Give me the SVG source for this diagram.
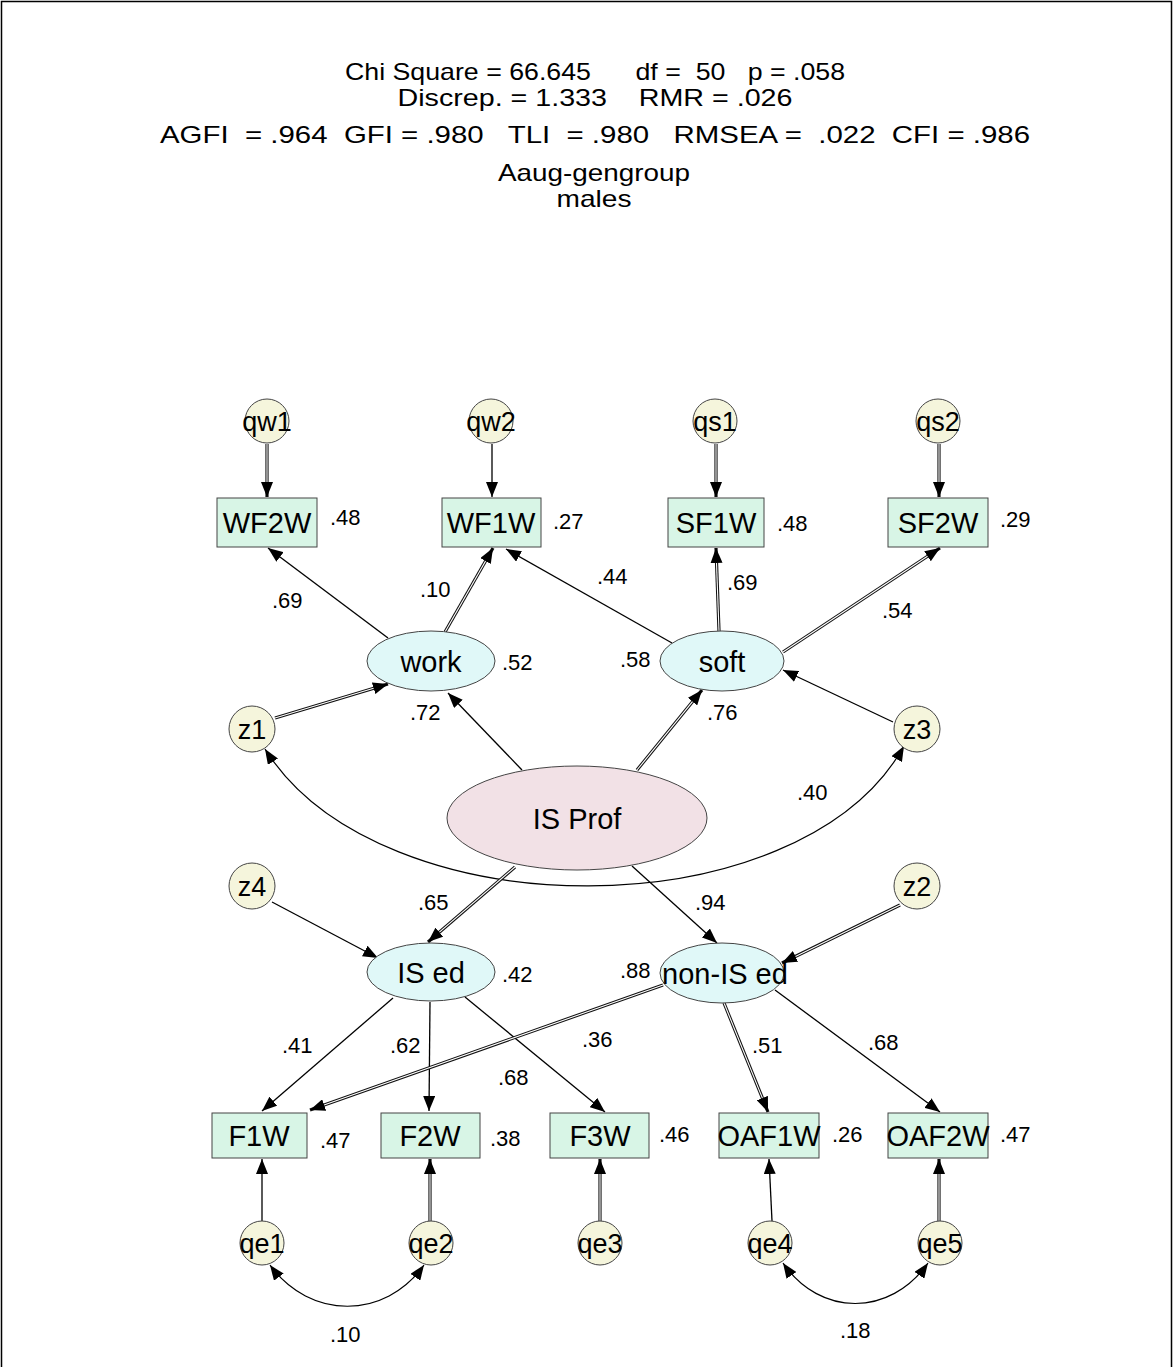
<svg xmlns="http://www.w3.org/2000/svg" width="1173" height="1367" viewBox="0 0 1173 1367">
<style>
text{font-family:"Liberation Sans",Arial,sans-serif;fill:#000}
.hdr{font-size:24px;text-anchor:middle;white-space:pre}
.lbl{font-size:29px;text-anchor:middle}
.elbl{font-size:27px;text-anchor:middle}
.val{font-size:22px}
.err{fill:#f5f5dc;stroke:#444;stroke-width:1}
.lat{fill:#e0f8f8;stroke:#444;stroke-width:1}
.prof{fill:#f2e1e6;stroke:#444;stroke-width:1}
.obs{fill:#d8f5e6;stroke:#444;stroke-width:1}
.sgl{fill:none;stroke:#000;stroke-width:1.3;marker-end:url(#ah)}
.dbl{fill:none;stroke:#111;stroke-width:3.2;marker-end:url(#ah)}
.dblin{fill:none;stroke:#fff;stroke-width:1.1}
.cov{fill:none;stroke:#000;stroke-width:1.2;marker-start:url(#ahs);marker-end:url(#ah)}
</style>
<defs>
<marker id="ah" markerUnits="userSpaceOnUse" markerWidth="16" markerHeight="12" refX="15" refY="6" orient="auto">
<path d="M0,0 L15,6 L0,12 z" fill="#000"/>
</marker>
<marker id="ahs" markerUnits="userSpaceOnUse" markerWidth="16" markerHeight="12" refX="15" refY="6" orient="auto-start-reverse">
<path d="M0,0 L15,6 L0,12 z" fill="#000"/>
</marker>
</defs>
<rect x="0" y="0" width="1173" height="1367" fill="#fff"/>
<path d="M1.5,1367 V1.5 H1171.5 V1367" fill="none" stroke="#000" stroke-width="1.5"/>

<g id="header">
<text class="hdr" x="595" y="80" textLength="500" lengthAdjust="spacingAndGlyphs">Chi Square = 66.645      df =  50   p = .058</text>
<text class="hdr" x="595" y="106" textLength="395" lengthAdjust="spacingAndGlyphs">Discrep. = 1.333    RMR = .026</text>
<text class="hdr" x="595" y="143" textLength="870" lengthAdjust="spacingAndGlyphs">AGFI  = .964  GFI = .980   TLI  = .980   RMSEA =  .022  CFI = .986</text>
<text class="hdr" x="594" y="181" textLength="192" lengthAdjust="spacingAndGlyphs">Aaug-gengroup</text>
<text class="hdr" x="594" y="207" textLength="75" lengthAdjust="spacingAndGlyphs">males</text>
</g>

<g id="connectors">
<path class="dbl" d="M267,444 L267,497"/><path class="dblin" d="M267,444 L267,482"/>
<path class="sgl" d="M492,444 L492,497"/>
<path class="dbl" d="M716,444 L716,497"/><path class="dblin" d="M716,444 L716,482"/>
<path class="dbl" d="M939,444 L939,497"/><path class="dblin" d="M939,444 L939,482"/>
<path class="sgl" d="M388,638 L268,548"/>
<path class="dbl" d="M445,632 L493,548"/><path class="dblin" d="M445,632 L485.6,561"/>
<path class="sgl" d="M672,643 L506,549"/>
<path class="dbl" d="M719,631 L716,548"/><path class="dblin" d="M719,631 L716.5,563"/>
<path class="dbl" d="M783,652 L940,548"/><path class="dblin" d="M783,652 L927.5,556.3"/>
<path class="sgl" d="M522,770 L448,693"/>
<path class="dbl" d="M637,770 L702,690"/><path class="dblin" d="M637,770 L692.5,701.6"/>
<path class="dbl" d="M275,718 L388,684"/><path class="dblin" d="M275,718 L373.6,688.3"/>
<path class="sgl" d="M893,722 L783,670"/>
<path class="cov" d="M265,749 C380,932 800,932 904,746"/>
<path class="dbl" d="M515,867 L428,942"/><path class="dblin" d="M515,867 L439.4,932.2"/>
<path class="sgl" d="M632,866 L717,943"/>
<path class="sgl" d="M272,902 L378,958"/>
<path class="dbl" d="M900,905 L782,963"/><path class="dblin" d="M900,905 L795.5,956.4"/>
<path class="sgl" d="M393,998 L262,1111"/>
<path class="sgl" d="M430,1002 L429,1111"/>
<path class="sgl" d="M465,997 L605,1112"/>
<path class="dbl" d="M663,985 L310,1110"/><path class="dblin" d="M663,985 L324.1,1105"/>
<path class="dbl" d="M724,1003 L768,1112"/><path class="dblin" d="M724,1003 L762.4,1098.1"/>
<path class="sgl" d="M775,990 L940,1112"/>
<path class="sgl" d="M262,1221 L262,1159"/>
<path class="dbl" d="M430,1221 L430,1159"/><path class="dblin" d="M430,1221 L430,1174"/>
<path class="dbl" d="M600,1221 L600,1159"/><path class="dblin" d="M600,1221 L600,1174"/>
<path class="sgl" d="M772,1221 L769,1159"/>
<path class="dbl" d="M939,1221 L939,1159"/><path class="dblin" d="M939,1221 L939,1174"/>
<path class="cov" d="M270,1265 C310,1320 385,1320 424,1265"/>
<path class="cov" d="M783,1263 C820,1317 890,1317 928,1263"/>
</g>

<g id="labels">
<text class="val" x="330" y="525">.48</text>
<text class="val" x="553" y="529">.27</text>
<text class="val" x="777" y="531">.48</text>
<text class="val" x="1000" y="527">.29</text>
<text class="val" x="272" y="608">.69</text>
<text class="val" x="420" y="597">.10</text>
<text class="val" x="597" y="584">.44</text>
<text class="val" x="727" y="590">.69</text>
<text class="val" x="882" y="618">.54</text>
<text class="val" x="502" y="670">.52</text>
<text class="val" x="620" y="667">.58</text>
<text class="val" x="410" y="720">.72</text>
<text class="val" x="707" y="720">.76</text>
<text class="val" x="797" y="800">.40</text>
<text class="val" x="418" y="910">.65</text>
<text class="val" x="695" y="910">.94</text>
<text class="val" x="502" y="982">.42</text>
<text class="val" x="620" y="978">.88</text>
<text class="val" x="282" y="1053">.41</text>
<text class="val" x="390" y="1053">.62</text>
<text class="val" x="582" y="1047">.36</text>
<text class="val" x="498" y="1085">.68</text>
<text class="val" x="752" y="1053">.51</text>
<text class="val" x="868" y="1050">.68</text>
<text class="val" x="320" y="1148">.47</text>
<text class="val" x="490" y="1146">.38</text>
<text class="val" x="659" y="1142">.46</text>
<text class="val" x="832" y="1142">.26</text>
<text class="val" x="1000" y="1142">.47</text>
<text class="val" x="330" y="1342">.10</text>
<text class="val" x="840" y="1338">.18</text>
</g>

<g id="qw1"><circle class="err" cx="267" cy="421" r="22"/><text class="elbl" x="267" y="431">qw1</text></g>
<g id="qw2"><circle class="err" cx="491" cy="421" r="22"/><text class="elbl" x="491" y="431">qw2</text></g>
<g id="qs1"><circle class="err" cx="715" cy="421" r="22"/><text class="elbl" x="715" y="431">qs1</text></g>
<g id="qs2"><circle class="err" cx="938" cy="421" r="22"/><text class="elbl" x="938" y="431">qs2</text></g>

<g id="WF2W"><rect class="obs" x="217" y="498" width="100" height="49"/><text class="lbl" x="267" y="533">WF2W</text></g>
<g id="WF1W"><rect class="obs" x="442" y="498" width="99" height="49"/><text class="lbl" x="491" y="533">WF1W</text></g>
<g id="SF1W"><rect class="obs" x="668" y="498" width="96" height="49"/><text class="lbl" x="716" y="533">SF1W</text></g>
<g id="SF2W"><rect class="obs" x="888" y="498" width="100" height="49"/><text class="lbl" x="938" y="533">SF2W</text></g>

<g id="work"><ellipse class="lat" cx="431" cy="661" rx="64" ry="30"/><text class="lbl" x="431" y="672">work</text></g>
<g id="soft"><ellipse class="lat" cx="722" cy="661" rx="62" ry="30"/><text class="lbl" x="722" y="672">soft</text></g>

<g id="z1"><circle class="err" cx="252" cy="729" r="23"/><text class="elbl" x="252" y="739">z1</text></g>
<g id="z3"><circle class="err" cx="917" cy="729" r="23"/><text class="elbl" x="917" y="739">z3</text></g>

<g id="ISProf"><ellipse class="prof" cx="577" cy="818" rx="130" ry="52"/><text class="lbl" x="577" y="829">IS Prof</text></g>

<g id="z4"><circle class="err" cx="252" cy="886" r="23"/><text class="elbl" x="252" y="896">z4</text></g>
<g id="z2"><circle class="err" cx="917" cy="886" r="23"/><text class="elbl" x="917" y="896">z2</text></g>

<g id="ISed"><ellipse class="lat" cx="431" cy="972" rx="64" ry="29"/><text class="lbl" x="431" y="983">IS ed</text></g>
<g id="nonISed"><ellipse class="lat" cx="722" cy="973" rx="62" ry="30"/><text class="lbl" x="725" y="984">non-IS ed</text></g>

<g id="F1W"><rect class="obs" x="212" y="1113" width="95" height="45"/><text class="lbl" x="259" y="1146">F1W</text></g>
<g id="F2W"><rect class="obs" x="381" y="1113" width="99" height="45"/><text class="lbl" x="430" y="1146">F2W</text></g>
<g id="F3W"><rect class="obs" x="550" y="1113" width="99" height="45"/><text class="lbl" x="600" y="1146">F3W</text></g>
<g id="OAF1W"><rect class="obs" x="719" y="1113" width="100" height="45"/><text class="lbl" x="769" y="1146">OAF1W</text></g>
<g id="OAF2W"><rect class="obs" x="888" y="1113" width="100" height="45"/><text class="lbl" x="938" y="1146">OAF2W</text></g>

<g id="qe1"><circle class="err" cx="262" cy="1243" r="22"/><text class="elbl" x="262" y="1253">qe1</text></g>
<g id="qe2"><circle class="err" cx="431" cy="1243" r="22"/><text class="elbl" x="431" y="1253">qe2</text></g>
<g id="qe3"><circle class="err" cx="600" cy="1243" r="22"/><text class="elbl" x="600" y="1253">qe3</text></g>
<g id="qe4"><circle class="err" cx="770" cy="1243" r="22"/><text class="elbl" x="770" y="1253">qe4</text></g>
<g id="qe5"><circle class="err" cx="940" cy="1243" r="22"/><text class="elbl" x="940" y="1253">qe5</text></g>
</svg>
